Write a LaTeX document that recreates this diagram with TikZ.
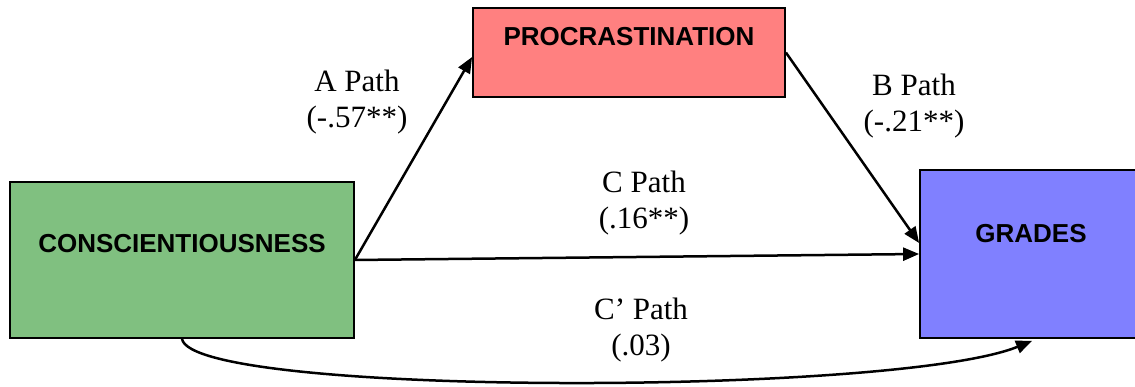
\documentclass[tikz,border=0pt]{standalone}
\usepackage{fontspec}
\setmainfont{Liberation Serif}
\newfontfamily\boxfont{Liberation Sans}
\usetikzlibrary{arrows.meta}
\definecolor{Leaf}{HTML}{80C080}
\definecolor{Salmon}{HTML}{FF8080}
\definecolor{Periwinkle}{HTML}{8080FF}

\begin{document}
\begin{tikzpicture}[x=1pt,y=1pt,
    factor/.style={draw,line width=1.8pt,inner sep=0pt,anchor=base,
                   font=\boxfont\bfseries\fontsize{26}{30}\selectfont},
    coef/.style={align=center,inner sep=0pt,font=\fontsize{31}{36}\selectfont},
    effect/.style={-{Triangle[length=16pt,width=13pt]},line width=2.5pt}]
    \useasboundingbox (0,0) rectangle (1135,387);
    \node[factor,fill=Leaf,minimum width=344pt,text height=71pt,text depth=85pt] (consc) at (182,134) {CONSCIENTIOUSNESS};
    \node[factor,fill=Salmon,minimum width=312pt,text height=38pt,text depth=51pt] (procr) at (629,341) {PROCRASTINATION};
    % right side runs past the page edge
    \node[factor,fill=Periwinkle,minimum width=222pt,text height=73pt,text depth=95pt] (grades) at (1031,144) {GRADES};
    \node[coef] (apath) at (357,284.5) {A Path\\(-.57**)};
    \node[coef] (bpath) at (914,280.5) {B Path\\(-.21**)};
    \node[coef] (cpath) at (644,184) {C Path\\(.16**)};
    \node[coef] (cprime) at (641,57) {C' Path\\(.03)};
    \draw[effect] (consc.east) -- ([yshift=-4.5pt]procr.west);
    \draw[effect] (procr.east) -- ([yshift=11pt]grades.west);
    \draw[effect] (consc.east) -- (grades.west);
    \draw[effect] (consc.south) .. controls +(10,-58) and +(-135,-55) .. ([xshift=1pt,yshift=-2pt]grades.south);
  \end{tikzpicture}
\end{document}
